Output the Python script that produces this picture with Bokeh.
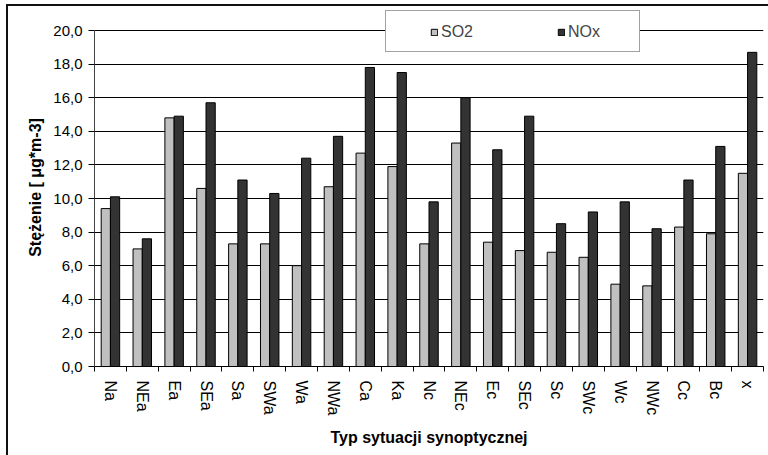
from bokeh.plotting import figure
from bokeh.models import Range1d, FixedTicker, Legend, LegendItem, ColumnDataSource
from bokeh.embed import file_html
from bokeh.resources import INLINE

categories = ["Na", "NEa", "Ea", "SEa", "Sa", "SWa", "Wa", "NWa", "Ca", "Ka", "Nc",
              "NEc", "Ec", "SEc", "Sc", "SWc", "Wc", "NWc", "Cc", "Bc", "x"]
so2 = [9.4, 7.0, 14.8, 10.6, 7.3, 7.3, 6.0, 10.7, 12.7, 11.9, 7.3,
       13.3, 7.4, 6.9, 6.8, 6.5, 4.9, 4.8, 8.3, 7.9, 11.5]
nox = [10.1, 7.6, 14.9, 15.7, 11.1, 10.3, 12.4, 13.7, 17.8, 17.5, 9.8,
       16.0, 12.9, 14.9, 8.5, 9.2, 9.8, 8.2, 11.1, 13.1, 18.7]
y_ticks = [0, 2, 4, 6, 8, 10, 12, 14, 16, 18, 20]
y_tick_labels = ["0,0", "2,0", "4,0", "6,0", "8,0", "10,0", "12,0", "14,0", "16,0", "18,0", "20,0"]
series_names = ["SO2", "NOx"]
y_title = "Stężenie [ μg*m-3]"
x_title = "Typ sytuacji synoptycznej"

FONT = "Liberation Sans"
n = len(categories)
idx = list(range(n))
bw = 0.29

# frame extends above the 20,0 gridline so the legend box (which overlaps it) is not clipped
frame_top, axis_top, frame_bottom = 8, 30, 366
y_max = y_ticks[-1]
y_end = y_max * (frame_bottom - frame_top) / (frame_bottom - axis_top)

p = figure(width=768, height=455, output_backend="svg", toolbar_location=None,
           x_range=Range1d(-0.5, n - 0.5), y_range=Range1d(0, y_end),
           min_border_left=94, min_border_right=5, min_border_top=frame_top, min_border_bottom=455 - frame_bottom)
p.outline_line_color = None
p.background_fill_color = "white"
p.border_fill_alpha = 0
p.styles = {"background": "linear-gradient(#111,#111) 6px 4px / 2px 500px no-repeat, "
                          "linear-gradient(#111,#111) 6px 4px / 800px 2px no-repeat, white"}

src = ColumnDataSource(dict(x=idx, so2=so2, nox=nox,
                            x1=[i - bw / 2 for i in idx], x2=[i + bw / 2 for i in idx]))
r1 = p.vbar(x="x1", top="so2", width=bw, source=src, fill_color="#c0c0c0", line_color="black", line_width=1)
r2 = p.vbar(x="x2", top="nox", width=bw, source=src, fill_color="#333333", line_color="black", line_width=1)
dummy = p.vbar(x=[], top=[], width=0.1, fill_alpha=0, line_alpha=0)

# axes
p.xaxis.ticker = FixedTicker(ticks=idx, minor_ticks=[i - 0.5 for i in range(n + 1)])
p.xaxis.major_label_overrides = {i: c for i, c in enumerate(categories)}
p.xaxis.major_label_orientation = "vertical"
p.xaxis.major_tick_out = 0
p.xaxis.major_tick_in = 0
p.xaxis.minor_tick_out = 5
p.xaxis.minor_tick_in = 0
p.xaxis.major_label_standoff = 9
p.xaxis.axis_label = x_title
p.xaxis.axis_label_standoff = 11
p.xaxis.axis_line_color = "black"
p.xaxis.minor_tick_line_color = "black"
p.xaxis.major_label_text_font_size = "16px"
p.xaxis.axis_label_text_font_size = "16px"

p.yaxis.ticker = FixedTicker(ticks=y_ticks)
p.yaxis.bounds = (0, y_max)
p.yaxis.major_label_overrides = {t: l for t, l in zip(y_ticks, y_tick_labels)}
p.yaxis.major_tick_out = 6
p.yaxis.major_tick_in = 0
p.yaxis.minor_tick_line_color = None
p.yaxis.major_label_standoff = 6
p.yaxis.axis_label = y_title
p.yaxis.axis_label_standoff = 6
p.yaxis.axis_line_color = "#444444"
p.yaxis.major_label_text_font_size = "15px"
p.yaxis.axis_label_text_font_size = "16px"

for ax in (p.xaxis, p.yaxis):
    ax.major_label_text_font = FONT
    ax.major_label_text_color = "black"
    ax.axis_label_text_font = FONT
    ax.axis_label_text_font_style = "bold"
    ax.axis_label_text_color = "black"

p.xgrid.grid_line_color = None
p.ygrid.ticker = FixedTicker(ticks=y_ticks)
p.ygrid.grid_line_color = "black"
p.ygrid.grid_line_width = 1

# legend frame (an empty item sized to the box)
box = Legend(items=[LegendItem(label=" ", renderers=[dummy])],
             location=(291, 314), padding=0, margin=0, spacing=0,
             glyph_width=1, glyph_height=40, label_width=252, label_height=40, label_standoff=0,
             background_fill_color="white", background_fill_alpha=1,
             border_line_color="#444444", border_line_width=1.5, label_text_font_size="1px")
p.add_layout(box, "center")

legend = Legend(items=[LegendItem(label=series_names[0], renderers=[r1]),
                       LegendItem(label=series_names[1], renderers=[r2])],
                orientation="horizontal", location=(336, 324),
                background_fill_alpha=0, border_line_color=None,
                glyph_width=8, glyph_height=8, label_standoff=3, spacing=84,
                label_height=20, label_text_baseline="middle",
                label_text_font=FONT, label_text_font_size="16px", padding=0, margin=0)
p.add_layout(legend, "center")

open("out.html", "w").write(file_html(p, INLINE))
